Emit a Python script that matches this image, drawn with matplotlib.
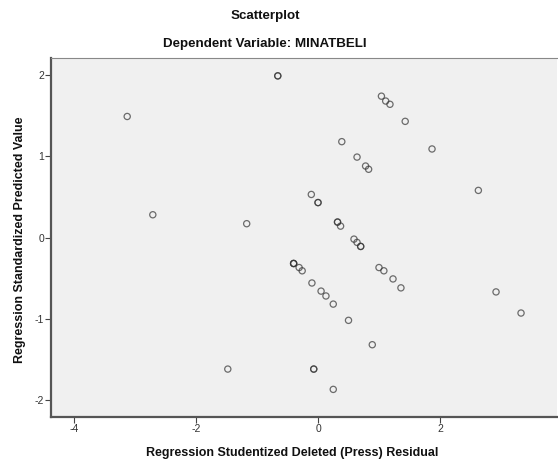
import matplotlib
matplotlib.use("Agg")
import matplotlib.pyplot as plt

plt.rcParams['font.family'] = ['Liberation Sans', 'DejaVu Sans']
plt.rcParams['axes.unicode_minus'] = False

# studentized deleted residual (x) vs standardized predicted value (y)
resid = [-3.13, -0.66, -0.66, 0.39, -0.11, 0.00, 0.00, -2.71, -1.17, 0.32, 0.32, 0.37,
         1.04, 1.11, 1.18, 1.43, 0.64, 0.78, 0.83, 1.87, 2.63,
         -0.40, -0.40, -0.40, -0.31, -0.26, -0.10, 0.05, 0.13, 0.25, 0.50,
         -1.48, -0.07, -0.07, 0.25, 0.59, 0.64, 0.70, 0.70,
         1.00, 1.08, 1.23, 1.36, 0.89, 2.92, 3.33]
pred = [1.49, 1.99, 1.99, 1.18, 0.53, 0.43, 0.43, 0.28, 0.17, 0.19, 0.19, 0.14,
        1.74, 1.68, 1.64, 1.43, 0.99, 0.88, 0.84, 1.09, 0.58,
        -0.32, -0.32, -0.32, -0.37, -0.41, -0.56, -0.66, -0.72, -0.82, -1.02,
        -1.62, -1.62, -1.62, -1.87, -0.02, -0.06, -0.11, -0.11,
        -0.37, -0.41, -0.51, -0.62, -1.32, -0.67, -0.93]

xticks = [-4, -2, 0, 2]
yticks = [-2, -1, 0, 1, 2]

fig = plt.figure(figsize=(5.58, 4.62), dpi=100)
ax = fig.add_axes([51 / 558, 45 / 462, 506 / 558, 359 / 462])
ax.set_facecolor('#f0f0f0')

ax.scatter(resid, pred, s=20, facecolors='none', edgecolors='#333333',
           linewidths=0.9, alpha=0.7, zorder=3)

ax.set_xlim(-4.38, 3.92)
ax.set_ylim(-2.21, 2.21)
ax.set_xticks(xticks)
ax.set_yticks(yticks)
ax.tick_params(direction='out', length=4, width=0.8, color='#444444',
               labelsize=7.5, labelcolor='#333333', pad=1)

for side in ['left', 'bottom']:
    ax.spines[side].set_color('#555555')
    ax.spines[side].set_linewidth(1.6)
ax.spines['top'].set_color('#888888')
ax.spines['top'].set_linewidth(0.8)
ax.spines['right'].set_visible(False)

fig.text(0.475, 1 - 16 / 462, 'Scatterplot', ha='center', va='center',
         fontsize=9.6, fontweight='bold', color='#111111')
fig.text(0.475, 1 - 44 / 462, 'Dependent Variable: MINATBELI', ha='center', va='center',
         fontsize=9.6, fontweight='bold', color='#111111')
fig.text(292 / 558, 1 - 453 / 462, 'Regression Studentized Deleted (Press) Residual',
         ha='center', va='center', fontsize=9, fontweight='bold', color='#111111')
fig.text(20 / 558, 1 - 240 / 462, 'Regression Standardized Predicted Value',
         ha='center', va='center', rotation=90, fontsize=9, fontweight='bold',
         color='#111111')

fig.savefig('out.png', dpi=100)
